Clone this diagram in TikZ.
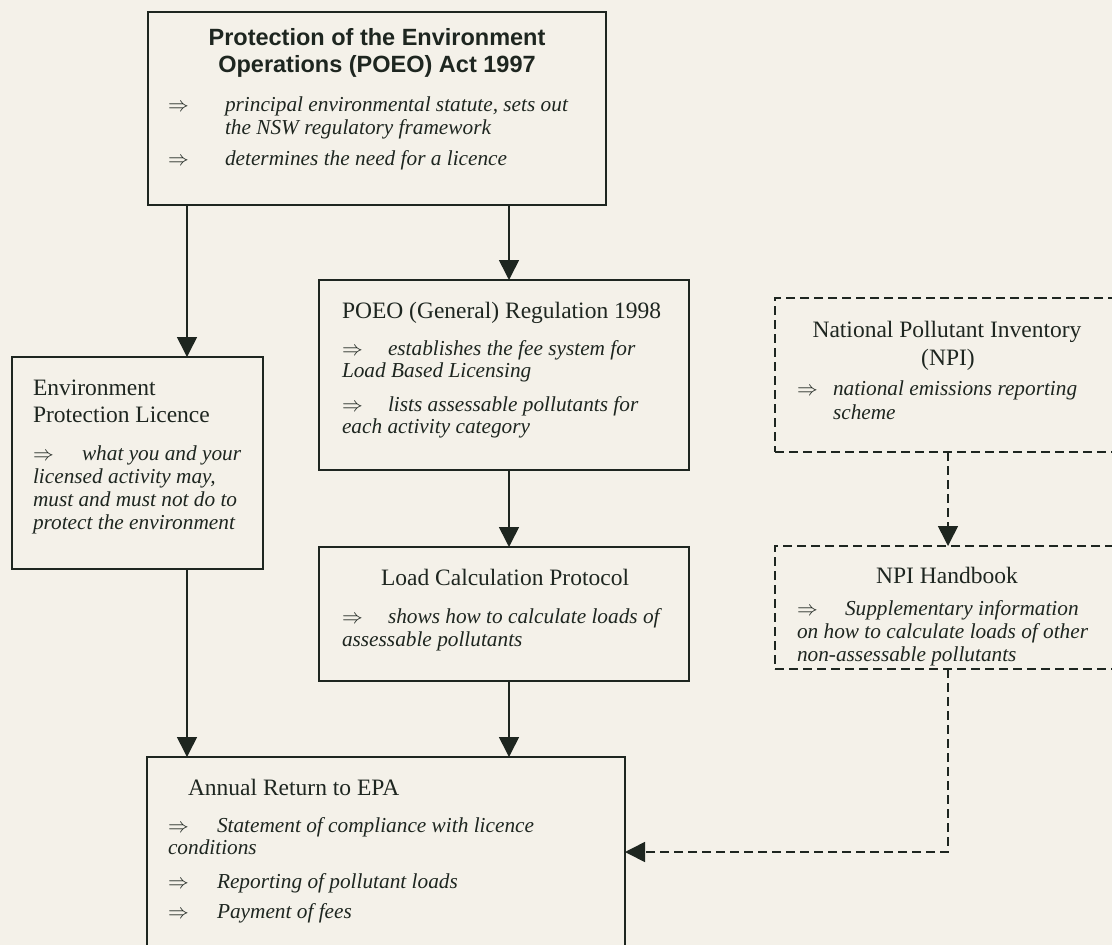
\documentclass[tikz,border=0pt]{standalone}
\usepackage{fontspec}
\setmainfont{Liberation Serif}
\newfontfamily\headsans{Liberation Sans}
\usetikzlibrary{arrows.meta}
\definecolor{paper}{RGB}{244,241,233}
\definecolor{ink}{RGB}{30,38,32}
\begin{document}
\begin{tikzpicture}[x=1pt,y=-1pt,
  box/.style={draw=ink, line width=1.6pt, rectangle, inner sep=0pt, outer sep=0pt, anchor=north west},
  dbox/.style={box, dash pattern=on 9pt off 5pt},
  arr/.style={color=ink, line width=1.6pt, -{Triangle[length=20pt,width=20pt]}},
  darr/.style={arr, dash pattern=on 9pt off 5pt},
  hd/.style={anchor=base west, inner sep=0pt, outer sep=0pt, text=ink, font=\fontsize{23.5}{27}\selectfont},
  hdc/.style={hd, anchor=base},
  it/.style={anchor=base west, inner sep=0pt, outer sep=0pt, text=ink, font=\fontsize{21.3}{23}\selectfont\itshape},
  bul/.style={anchor=base west, inner sep=0pt, outer sep=0pt, text=ink, font=\fontsize{21.3}{23}\selectfont},
  sb/.style={anchor=base, inner sep=0pt, outer sep=0pt, text=ink, font=\headsans\bfseries\fontsize{23.5}{27}\selectfont}
]
\useasboundingbox (0,0) rectangle (1112,945);
\fill[paper] (0,0) rectangle (1112,945);
\clip (0,0) rectangle (1112,945);

% boxes
\node[box, minimum width=458pt, minimum height=193pt] (top) at (148,12) {};
\node[box, minimum width=251pt, minimum height=212pt] (epl) at (12,357) {};
\node[box, minimum width=370pt, minimum height=190pt] (reg) at (319,280) {};
\node[box, minimum width=370pt, minimum height=134pt] (lcp) at (319,547) {};
\node[dbox, minimum width=346pt, minimum height=154pt] (npi) at (775,298) {};
\node[dbox, minimum width=346pt, minimum height=123pt] (hb) at (775,546) {};
\node[box, minimum width=478pt, minimum height=223pt] (ann) at (147,757) {};

% top box text
\node[sb] (t1) at (377,45.5) {Protection of the Environment};
\node[sb] (t2) at (377,72.5) {Operations (POEO) Act 1997};
\node[bul] (t3) at (168,111) {$\Rightarrow$};
\node[it] (t4) at (225,111) {principal environmental statute, sets out};
\node[it] (t5) at (225,134) {the NSW regulatory framework};
\node[bul] (t6) at (168,165) {$\Rightarrow$};
\node[it] (t7) at (225,165) {determines the need for a licence};

% licence box text
\node[hd] (e1) at (33,395) {Environment};
\node[hd] (e2) at (33,422) {Protection Licence};
\node[bul] (e3) at (33,460) {$\Rightarrow$};
\node[it] (e4) at (82,460) {what you and your};
\node[it] (e5) at (33,483) {licensed activity may,};
\node[it] (e6) at (33,506) {must and must not do to};
\node[it] (e7) at (33,529) {protect the environment};

% regulation box text
\node[hd] (r1) at (342,318) {POEO (General) Regulation 1998};
\node[bul] (r2) at (342,355) {$\Rightarrow$};
\node[it] (r3) at (388,355) {establishes the fee system for};
\node[it] (r4) at (342,377) {Load Based Licensing};
\node[bul] (r5) at (342,411) {$\Rightarrow$};
\node[it] (r6) at (388,411) {lists assessable pollutants for};
\node[it] (r7) at (342,433) {each activity category};

% load calculation protocol text
\node[hdc] (l1) at (505,585) {Load Calculation Protocol};
\node[bul] (l2) at (342,623) {$\Rightarrow$};
\node[it] (l3) at (388,623) {shows how to calculate loads of};
\node[it] (l4) at (342,646) {assessable pollutants};

% NPI text
\node[hdc] (n1) at (947,337) {National Pollutant Inventory};
\node[hdc] (n2) at (948,365) {(NPI)};
\node[bul] (n3) at (797,395) {$\Rightarrow$};
\node[it] (n4) at (833,395) {national emissions reporting};
\node[it] (n5) at (833,419) {scheme};

% NPI handbook text
\node[hdc] (h1) at (947,583) {NPI Handbook};
\node[bul] (h2) at (797,615) {$\Rightarrow$};
\node[it] (h3) at (845,615) {Supplementary information};
\node[it] (h4) at (797,638) {on how to calculate loads of other};
\node[it] (h5) at (797,661) {non-assessable pollutants};

% annual return text
\node[hd] (a1) at (188,795) {Annual Return to EPA};
\node[bul] (a2) at (168,832) {$\Rightarrow$};
\node[it] (a3) at (217,832) {Statement of compliance with licence};
\node[it] (a4) at (168,854) {conditions};
\node[bul] (a5) at (168,888) {$\Rightarrow$};
\node[it] (a6) at (217,888) {Reporting of pollutant loads};
\node[bul] (a7) at (168,918) {$\Rightarrow$};
\node[it] (a8) at (217,918) {Payment of fees};

% connectors
\draw[arr] (top.south -| 187,0) -- (epl.north -| 187,0);
\draw[arr] (top.south -| 509,0) -- (reg.north -| 509,0);
\draw[arr] (epl.south -| 187,0) -- (ann.north -| 187,0);
\draw[arr] (reg.south -| 509,0) -- (lcp.north -| 509,0);
\draw[arr] (lcp.south -| 509,0) -- (ann.north -| 509,0);
\draw[darr] (npi.south) -- (hb.north);
\draw[darr] (hb.south) |- (ann.east |- 0,852);
\end{tikzpicture}
\end{document}
